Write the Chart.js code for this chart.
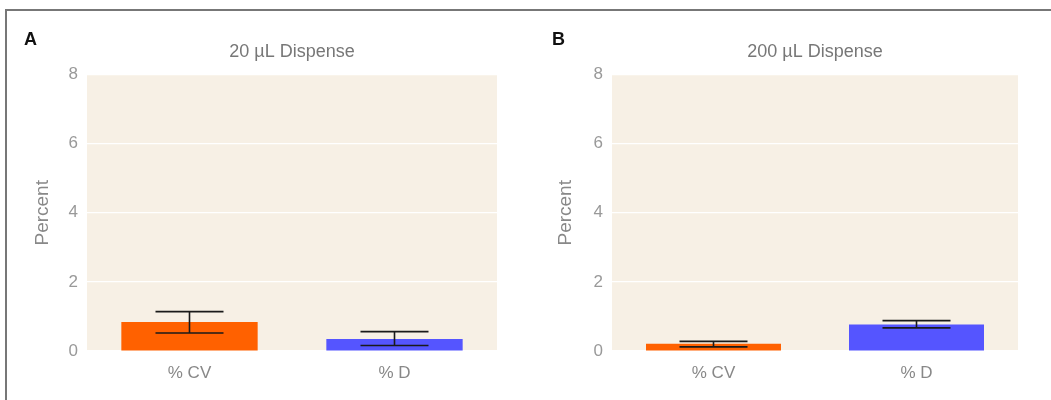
<!DOCTYPE html>
<html>
<head>
<meta charset="utf-8">
<script src="https://cdn.jsdelivr.net/npm/chart.js@4.4.1/dist/chart.umd.min.js"></script>
<style>
  html, body { margin: 0; padding: 0; background: #fff; overflow: hidden; }
  #page { position: relative; width: 1051px; height: 400px; }
  #frame {
    position: absolute; left: 5px; top: 9px; width: 1100px; height: 500px;
    border-top: 2px solid #777; border-left: 2px solid #777;
  }
  .panel { position: absolute; top: 0; width: 525px; height: 400px; }
  .tag {
    position: absolute; top: 29px; font: bold 18px "Liberation Sans", Arial, sans-serif; color: #111;
  }
</style>
</head>
<body>
<div id="page">
  <div id="frame"></div>
  <div class="panel" style="left:0"><canvas id="chartA" width="525" height="400"></canvas></div>
  <div class="panel" style="left:525px; width:526px"><canvas id="chartB" width="526" height="400"></canvas></div>
  <div class="tag" style="left:24px">A</div>
  <div class="tag" style="left:552px">B</div>
</div>
<script>
// Datos
const categories = ["% CV", "% D"];
const yTicks = [0, 2, 4, 6, 8];

const titleA = "20 µL Dispense";
const valuesA = [0.84, 0.35];
const errLowA = [0.52, 0.16];
const errHighA = [1.14, 0.56];

const titleB = "200 µL Dispense";
const valuesB = [0.21, 0.77];
const errLowB = [0.12, 0.67];
const errHighB = [0.28, 0.88];

const barColors = ["#FF6100", "#5555FF"];
const FONT = "'Liberation Sans', Arial, sans-serif";

// Fondo crema del área del gráfico
const plotBg = {
  id: "plotBg",
  beforeDraw(chart) {
    const { ctx, chartArea: a } = chart;
    ctx.save();
    ctx.fillStyle = "#F7F0E5";
    ctx.fillRect(a.left, a.top, a.right - a.left, a.bottom - a.top);
    ctx.restore();
  },
};

// Barras de error (bajo/alto por categoría)
const errorBars = {
  id: "errorBars",
  afterDatasetsDraw(chart, args, opts) {
    const { ctx } = chart;
    const x = chart.scales.x;
    const y = chart.scales.y;
    ctx.save();
    ctx.strokeStyle = "#1a1a1a";
    ctx.lineWidth = 1.6;
    opts.low.forEach((lo, i) => {
      const cx = x.getPixelForValue(i);
      const yl = y.getPixelForValue(lo);
      const yh = y.getPixelForValue(opts.high[i]);
      ctx.beginPath();
      ctx.moveTo(cx, yl); ctx.lineTo(cx, yh);
      ctx.moveTo(cx - 34, yl); ctx.lineTo(cx + 34, yl);
      ctx.moveTo(cx - 34, yh); ctx.lineTo(cx + 34, yh);
      ctx.stroke();
    });
    ctx.restore();
  },
};

function makeChart(canvasId, title, values, low, high, rightPad, yTitlePad) {
  const ctx = document.getElementById(canvasId).getContext("2d");
  return new Chart(ctx, {
    type: "bar",
    data: {
      labels: categories,
      datasets: [
        {
          data: values,
          backgroundColor: barColors,
          borderWidth: 0,
          categoryPercentage: 1,
          barPercentage: 0.665,
        },
      ],
    },
    options: {
      responsive: false,
      animation: false,
      layout: { padding: { top: 0, left: 0, right: rightPad, bottom: 0 } },
      plugins: {
        legend: { display: false },
        tooltip: { enabled: false },
        title: {
          display: true,
          text: title,
          fullSize: false,
          color: "#777",
          font: { family: FONT, size: 18, weight: "normal" },
          padding: { top: 41, bottom: 12 },
        },
        errorBars: { low, high },
      },
      scales: {
        x: {
          afterFit: (s) => { s.height = 49; },
          grid: { display: false, drawTicks: false },
          border: { display: false },
          ticks: { color: "#888", padding: 12, font: { family: FONT, size: 17 } },
        },
        y: {
          min: 0,
          max: 8,
          afterBuildTicks: (s) => { s.ticks = yTicks.map((v) => ({ value: v })); },
          afterFit: (s) => { s.width = 87; },
          grid: { color: "#ffffff", lineWidth: 1.2, drawTicks: false },
          border: { display: false },
          ticks: { color: "#999", padding: 9, font: { family: FONT, size: 17 } },
          title: {
            display: true,
            text: "Percent",
            color: "#888",
            font: { family: FONT, size: 19 },
            padding: { top: yTitlePad, bottom: 0 },
          },
        },
      },
    },
    plugins: [plotBg, errorBars],
  });
}

makeChart("chartA", titleA, valuesA, errLowA, errHighA, 28, 31);
makeChart("chartB", titleB, valuesB, errLowB, errHighB, 33, 29);
</script>
</body>
</html>
